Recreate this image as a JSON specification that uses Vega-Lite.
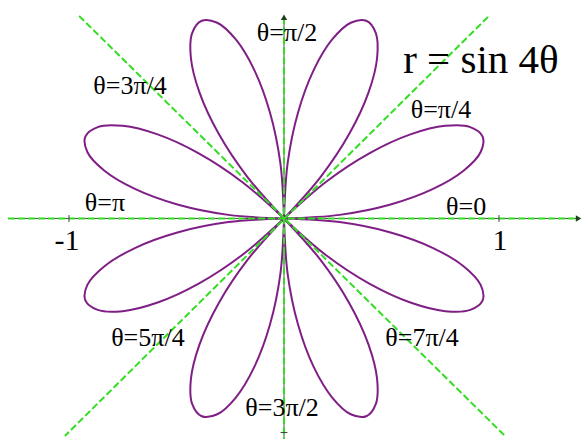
{
  "$schema": "https://vega.github.io/schema/vega-lite/v6.json",
  "width": 582,
  "height": 440,
  "autosize": {"type": "fit", "contains": "padding"},
  "padding": 0,
  "background": "white",
  "config": {"view": {"stroke": null}},
  "datasets": {
    "rose": [
      {"p":1,"i":0,"x":0,"y":0},{"p":1,"i":1,"x":0.2583,"y":0.0169},{"p":1,"i":2,"x":0.4957,"y":0.0653},{"p":1,"i":3,"x":0.6935,"y":0.138},{"p":1,"i":4,"x":0.8365,"y":0.2241},{"p":1,"i":5,"x":0.9147,"y":0.3105},{"p":1,"i":6,"x":0.9239,"y":0.3827},{"p":1,"i":7,"x":0.8663,"y":0.4272},{"p":1,"i":8,"x":0.75,"y":0.433},{"p":1,"i":9,"x":0.5879,"y":0.3928},{"p":1,"i":10,"x":0.3967,"y":0.3044},{"p":1,"i":11,"x":0.1946,"y":0.1707},{"p":1,"i":12,"x":0,"y":0},
      {"p":2,"i":0,"x":0,"y":0},{"p":2,"i":1,"x":0.0169,"y":0.2583},{"p":2,"i":2,"x":0.0653,"y":0.4957},{"p":2,"i":3,"x":0.138,"y":0.6935},{"p":2,"i":4,"x":0.2241,"y":0.8365},{"p":2,"i":5,"x":0.3105,"y":0.9147},{"p":2,"i":6,"x":0.3827,"y":0.9239},{"p":2,"i":7,"x":0.4272,"y":0.8663},{"p":2,"i":8,"x":0.433,"y":0.75},{"p":2,"i":9,"x":0.3928,"y":0.5879},{"p":2,"i":10,"x":0.3044,"y":0.3967},{"p":2,"i":11,"x":0.1707,"y":0.1946},{"p":2,"i":12,"x":0,"y":0},
      {"p":3,"i":0,"x":0,"y":0},{"p":3,"i":1,"x":-0.0169,"y":0.2583},{"p":3,"i":2,"x":-0.0653,"y":0.4957},{"p":3,"i":3,"x":-0.138,"y":0.6935},{"p":3,"i":4,"x":-0.2241,"y":0.8365},{"p":3,"i":5,"x":-0.3105,"y":0.9147},{"p":3,"i":6,"x":-0.3827,"y":0.9239},{"p":3,"i":7,"x":-0.4272,"y":0.8663},{"p":3,"i":8,"x":-0.433,"y":0.75},{"p":3,"i":9,"x":-0.3928,"y":0.5879},{"p":3,"i":10,"x":-0.3044,"y":0.3967},{"p":3,"i":11,"x":-0.1707,"y":0.1946},{"p":3,"i":12,"x":0,"y":0},
      {"p":4,"i":0,"x":0,"y":0},{"p":4,"i":1,"x":-0.2583,"y":0.0169},{"p":4,"i":2,"x":-0.4957,"y":0.0653},{"p":4,"i":3,"x":-0.6935,"y":0.138},{"p":4,"i":4,"x":-0.8365,"y":0.2241},{"p":4,"i":5,"x":-0.9147,"y":0.3105},{"p":4,"i":6,"x":-0.9239,"y":0.3827},{"p":4,"i":7,"x":-0.8663,"y":0.4272},{"p":4,"i":8,"x":-0.75,"y":0.433},{"p":4,"i":9,"x":-0.5879,"y":0.3928},{"p":4,"i":10,"x":-0.3967,"y":0.3044},{"p":4,"i":11,"x":-0.1946,"y":0.1707},{"p":4,"i":12,"x":0,"y":0},
      {"p":5,"i":0,"x":0,"y":0},{"p":5,"i":1,"x":-0.2583,"y":-0.0169},{"p":5,"i":2,"x":-0.4957,"y":-0.0653},{"p":5,"i":3,"x":-0.6935,"y":-0.138},{"p":5,"i":4,"x":-0.8365,"y":-0.2241},{"p":5,"i":5,"x":-0.9147,"y":-0.3105},{"p":5,"i":6,"x":-0.9239,"y":-0.3827},{"p":5,"i":7,"x":-0.8663,"y":-0.4272},{"p":5,"i":8,"x":-0.75,"y":-0.433},{"p":5,"i":9,"x":-0.5879,"y":-0.3928},{"p":5,"i":10,"x":-0.3967,"y":-0.3044},{"p":5,"i":11,"x":-0.1946,"y":-0.1707},{"p":5,"i":12,"x":0,"y":0},
      {"p":6,"i":0,"x":0,"y":0},{"p":6,"i":1,"x":-0.0169,"y":-0.2583},{"p":6,"i":2,"x":-0.0653,"y":-0.4957},{"p":6,"i":3,"x":-0.138,"y":-0.6935},{"p":6,"i":4,"x":-0.2241,"y":-0.8365},{"p":6,"i":5,"x":-0.3105,"y":-0.9147},{"p":6,"i":6,"x":-0.3827,"y":-0.9239},{"p":6,"i":7,"x":-0.4272,"y":-0.8663},{"p":6,"i":8,"x":-0.433,"y":-0.75},{"p":6,"i":9,"x":-0.3928,"y":-0.5879},{"p":6,"i":10,"x":-0.3044,"y":-0.3967},{"p":6,"i":11,"x":-0.1707,"y":-0.1946},{"p":6,"i":12,"x":0,"y":0},
      {"p":7,"i":0,"x":0,"y":0},{"p":7,"i":1,"x":0.0169,"y":-0.2583},{"p":7,"i":2,"x":0.0653,"y":-0.4957},{"p":7,"i":3,"x":0.138,"y":-0.6935},{"p":7,"i":4,"x":0.2241,"y":-0.8365},{"p":7,"i":5,"x":0.3105,"y":-0.9147},{"p":7,"i":6,"x":0.3827,"y":-0.9239},{"p":7,"i":7,"x":0.4272,"y":-0.8663},{"p":7,"i":8,"x":0.433,"y":-0.75},{"p":7,"i":9,"x":0.3928,"y":-0.5879},{"p":7,"i":10,"x":0.3044,"y":-0.3967},{"p":7,"i":11,"x":0.1707,"y":-0.1946},{"p":7,"i":12,"x":0,"y":0},
      {"p":8,"i":0,"x":0,"y":0},{"p":8,"i":1,"x":0.2583,"y":-0.0169},{"p":8,"i":2,"x":0.4957,"y":-0.0653},{"p":8,"i":3,"x":0.6935,"y":-0.138},{"p":8,"i":4,"x":0.8365,"y":-0.2241},{"p":8,"i":5,"x":0.9147,"y":-0.3105},{"p":8,"i":6,"x":0.9239,"y":-0.3827},{"p":8,"i":7,"x":0.8663,"y":-0.4272},{"p":8,"i":8,"x":0.75,"y":-0.433},{"p":8,"i":9,"x":0.5879,"y":-0.3928},{"p":8,"i":10,"x":0.3967,"y":-0.3044},{"p":8,"i":11,"x":0.1946,"y":-0.1707},{"p":8,"i":12,"x":0,"y":0}
    ],
    "axes": [
      {"x":-1.284,"y":0,"x2":1.37,"y2":0},
      {"x":0,"y":0.94,"x2":0,"y2":-1.03}
    ],
    "guides": [
      {"x":-1.284,"y":0,"x2":1.37,"y2":0},
      {"x":0,"y":0.94,"x2":0,"y2":-1.03},
      {"x":-0.953,"y":0.9465,"x2":1.028,"y2":-1.016},
      {"x":0.949,"y":0.942,"x2":-1.019,"y2":-1.016}
    ],
    "ticks": [
      {"x":1,"y":-0.016,"x2":1,"y2":0.016},
      {"x":-1,"y":-0.016,"x2":-1,"y2":0.016},
      {"x":-0.016,"y":-1,"x2":0.016,"y2":-1}
    ],
    "arrowRight": [{"x":1.37,"y":0}],
    "arrowUp": [{"x":0,"y":0.94}],
    "angleLabels": [
      {"t":"θ=π/2","x":0.014,"y":0.867},
      {"t":"θ=3π/4","x":-0.716,"y":0.621},
      {"t":"θ=π/4","x":0.73,"y":0.509},
      {"t":"θ=π","x":-0.833,"y":0.072},
      {"t":"θ=0","x":0.847,"y":0.053},
      {"t":"θ=5π/4","x":-0.633,"y":-0.56},
      {"t":"θ=7π/4","x":0.642,"y":-0.56},
      {"t":"θ=3π/2","x":-0.009,"y":-0.886}
    ],
    "tickLabels": [
      {"t":"-1","x":-1.009,"y":-0.105},
      {"t":"1","x":1.005,"y":-0.105}
    ],
    "title": [
      {"t":"r = sin 4θ","x":0.916,"y":0.737}
    ]
  },
  "encoding": {
    "x": {"field":"x","type":"quantitative","scale":{"domain":[-1.3209,1.386],"nice":false,"zero":false},"axis":null},
    "y": {"field":"y","type":"quantitative","scale":{"domain":[-1.0256,1.0209],"nice":false,"zero":false},"axis":null}
  },
  "layer": [
    {
      "data": {"name":"rose"},
      "mark": {"type":"line","color":"#7f1f86","strokeWidth":2,"interpolate":"catmull-rom"},
      "encoding": {
        "detail": {"field":"p","type":"nominal"},
        "order": {"field":"i","type":"quantitative"}
      }
    },
    {
      "data": {"name":"axes"},
      "mark": {"type":"rule","color":"#555555","strokeWidth":1},
      "encoding": {"x2":{"field":"x2"},"y2":{"field":"y2"}}
    },
    {
      "data": {"name":"guides"},
      "mark": {"type":"rule","color":"#33dd22","strokeWidth":2,"strokeDash":[7,3]},
      "encoding": {"x2":{"field":"x2"},"y2":{"field":"y2"}}
    },
    {
      "data": {"name":"ticks"},
      "mark": {"type":"rule","color":"#444444","strokeWidth":1},
      "encoding": {"x2":{"field":"x2"},"y2":{"field":"y2"}}
    },
    {
      "data": {"name":"arrowRight"},
      "mark": {"type":"point","shape":"triangle-right","filled":true,"color":"#1f3f1f","size":40,"opacity":1}
    },
    {
      "data": {"name":"arrowUp"},
      "mark": {"type":"point","shape":"triangle-up","filled":true,"color":"#1f3f1f","size":40,"opacity":1}
    },
    {
      "data": {"name":"angleLabels"},
      "mark": {"type":"text","font":"Liberation Serif","fontSize":26,"color":"black","align":"center","baseline":"middle"},
      "encoding": {"text":{"field":"t"}}
    },
    {
      "data": {"name":"tickLabels"},
      "mark": {"type":"text","font":"Liberation Serif","fontSize":30,"color":"black","align":"center","baseline":"middle"},
      "encoding": {"text":{"field":"t"}}
    },
    {
      "data": {"name":"title"},
      "mark": {"type":"text","font":"Liberation Serif","fontSize":41,"color":"black","align":"center","baseline":"middle"},
      "encoding": {"text":{"field":"t"}}
    }
  ]
}
